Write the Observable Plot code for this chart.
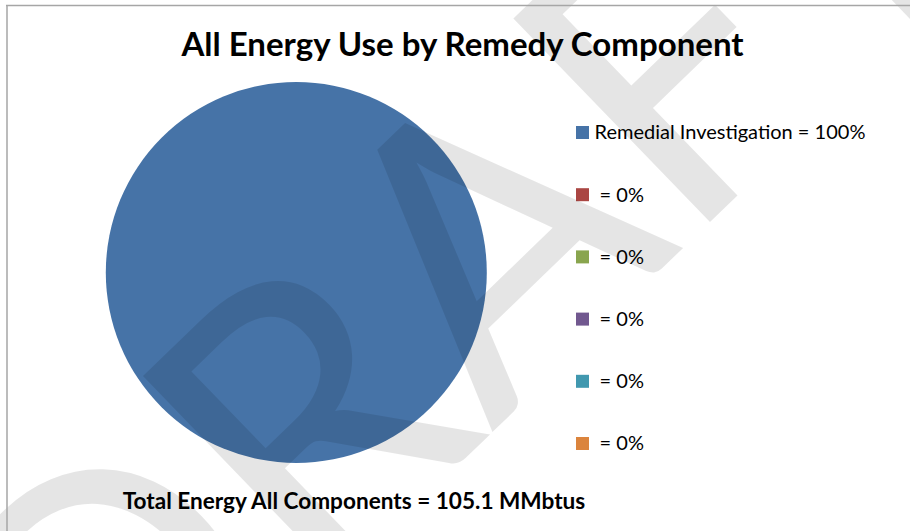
<!DOCTYPE html>
<html><head><meta charset="utf-8">
<script src="https://cdn.jsdelivr.net/npm/d3@7"></script>
<script src="https://cdn.jsdelivr.net/npm/@observablehq/plot@0.6"></script>
<style>html,body{margin:0;padding:0;background:#fff;overflow:hidden;}</style>
</head><body><div id="chart"></div>
<script>
// ---- data ----
const titleText = "All Energy Use by Remedy Component";
const components = ["Remedial Investigation", "", "", "", "", ""];
const energy = [105.1, 0, 0, 0, 0, 0];           // MMbtus per component
const colors = ["#4673A7", "#AA4643", "#89A54E", "#71588F", "#4198AF", "#DB843D"];
const totalLabel = "Total Energy All Components";
const units = "MMbtus";
const watermark = "DRAFT";

// ---- derived ----
const total = d3.sum(energy);
const rows = components.map((name, i) => ({i, name, value: energy[i], pct: total ? energy[i] / total * 100 : 0}));
const legendLabel = d => `${d.name}${d.name ? " " : "\u00A0"}= ${Math.round(d.pct)}%`;
const caption = `${totalLabel} = ${total.toFixed(1)} ${units}`;

// ---- layout ----
const W = 910, H = 531;
const CX = 296.3, CY = 272.5, R = 190.5;
const LX = 576, SQ = 13, LY = 132.5, STEP = 62.2, TX = 594;

function pieMark(index, scales) {
  const sx = scales && scales.x ? scales.x : (v => v);
  const sy = scales && scales.y ? scales.y : (v => v);
  const col = scales && scales.color ? scales.color : (i => colors[i]);
  const arcs = d3.pie().sort(null).value(d => d.value)(rows);
  const arc = d3.arc().innerRadius(0).outerRadius(sx(CX + R) - sx(CX));
  const g = d3.create("svg:g").attr("transform", `translate(${sx(CX)},${sy(CY)})`);
  g.selectAll("path").data(arcs).join("path").attr("d", arc).attr("fill", d => col(d.data.i));
  return g.node();
}

const chart = Plot.plot({
  width: W, height: H, margin: 0,
  x: {domain: [0, W], range: [0, W], axis: null},
  y: {domain: [0, H], range: [0, H], axis: null},
  color: {type: "ordinal", domain: rows.map(d => d.i), range: colors},
  style: {fontFamily: "Lato, sans-serif", background: "white", overflow: "hidden"},
  marks: [
    pieMark,
    Plot.rect(rows, {x1: LX, x2: LX + SQ, y1: d => LY + d.i * STEP - SQ / 2, y2: d => LY + d.i * STEP + SQ / 2, fill: "i"}),
    Plot.text(rows, {x: TX, y: d => LY + d.i * STEP, text: legendLabel, textAnchor: "start", lineAnchor: "middle", fontSize: 20, fill: "#000"}),
    Plot.text([titleText], {x: 462, y: 55, text: d => d, textAnchor: "middle", lineAnchor: "bottom", fontSize: 33, fontWeight: "bold", fill: "#000"}),
    Plot.text([caption], {x: 353.5, y: 508, text: d => d, textAnchor: "middle", lineAnchor: "bottom", fontSize: 22.6, fontWeight: "bold", fill: "#000"}),
    Plot.text([watermark], {x: 97, y: 813, text: d => d, rotate: -44, textAnchor: "start", lineAnchor: "bottom", fontSize: 395, fill: "#000", fillOpacity: 0.1}),
    Plot.ruleY([5], {x1: 6, x2: W, stroke: "#a6a6a6", strokeWidth: 1.5}),
    Plot.ruleX([6.5], {y1: 5, y2: H, stroke: "#a6a6a6", strokeWidth: 1.5})
  ]
});
document.getElementById("chart").appendChild(chart);
</script></body></html>
